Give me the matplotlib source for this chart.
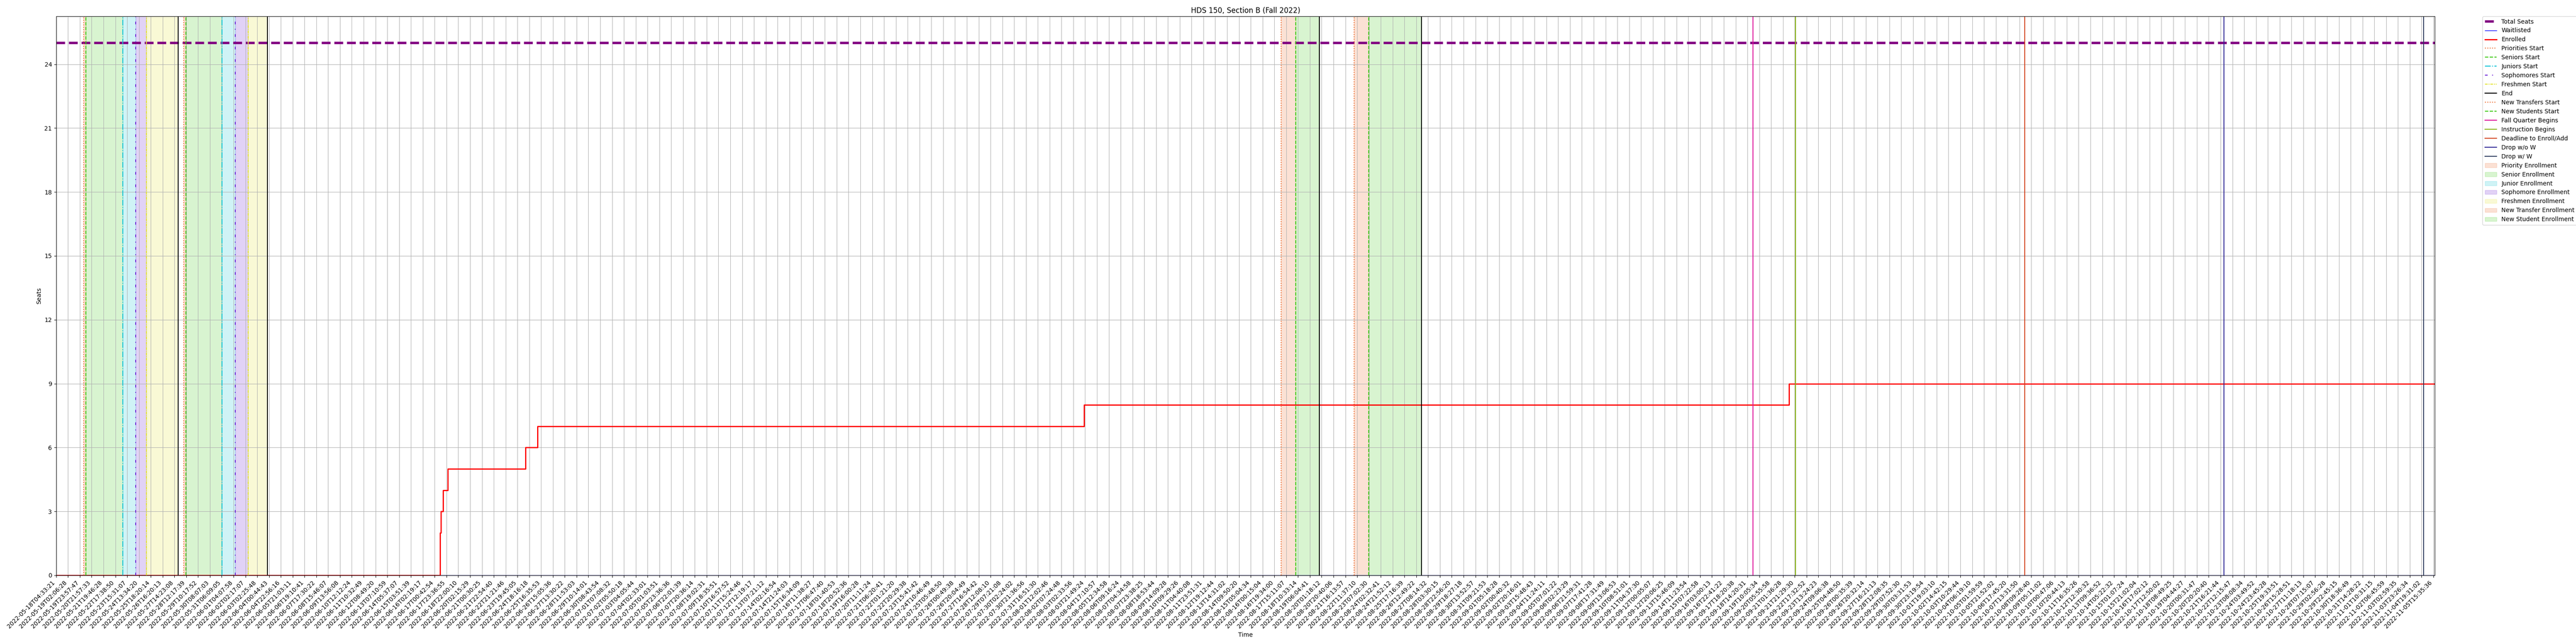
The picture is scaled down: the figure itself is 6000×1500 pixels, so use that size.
import matplotlib
matplotlib.use("Agg")
import matplotlib.pyplot as plt
from matplotlib.patches import Patch
from matplotlib.lines import Line2D

TITLE = "HDS 150, Section B (Fall 2022)"

# x axis is the sample position, one unit = one labelled tick
tick_labels = [
    "2022-05-18T04:33:21", "2022-05-19T02:06:28", "2022-05-19T23:57:47", "2022-05-20T21:57:33",
    "2022-05-21T19:46:28", "2022-05-22T17:38:50", "2022-05-23T15:31:07", "2022-05-24T13:34:20",
    "2022-05-25T18:20:14", "2022-05-26T16:20:13", "2022-05-27T14:23:08", "2022-05-28T12:17:39",
    "2022-05-29T10:17:52", "2022-05-30T08:07:03", "2022-05-31T06:09:05", "2022-06-01T04:07:58",
    "2022-06-02T02:17:07", "2022-06-03T02:25:48", "2022-06-04T00:44:43", "2022-06-04T22:56:16",
    "2022-06-05T21:03:11", "2022-06-06T19:10:41", "2022-06-07T17:30:22", "2022-06-08T15:46:07",
    "2022-06-09T13:56:08", "2022-06-10T12:12:24", "2022-06-11T10:32:49", "2022-06-12T08:49:20",
    "2022-06-13T07:10:59", "2022-06-14T05:37:07", "2022-06-15T03:51:39", "2022-06-16T02:19:17",
    "2022-06-17T00:42:54", "2022-06-17T23:36:55", "2022-06-18T22:00:10", "2022-06-20T02:15:29",
    "2022-06-21T00:30:25", "2022-06-21T22:54:40", "2022-06-22T21:21:46", "2022-06-23T19:45:05",
    "2022-06-24T18:16:18", "2022-06-25T16:35:53", "2022-06-26T15:05:36", "2022-06-27T13:30:22",
    "2022-06-28T11:53:03", "2022-06-29T10:14:01", "2022-06-30T08:43:54", "2022-07-01T07:08:32",
    "2022-07-02T05:50:18", "2022-07-03T04:05:44", "2022-07-04T02:33:01", "2022-07-05T01:03:51",
    "2022-07-05T23:36:36", "2022-07-06T22:01:39", "2022-07-07T20:36:14", "2022-07-08T19:02:31",
    "2022-07-09T18:35:51", "2022-07-10T16:57:52", "2022-07-11T15:24:46", "2022-07-12T12:19:17",
    "2022-07-13T07:21:12", "2022-07-14T02:16:54", "2022-07-14T21:24:03", "2022-07-15T16:34:09",
    "2022-07-16T11:38:27", "2022-07-17T06:47:40", "2022-07-18T01:40:53", "2022-07-18T20:52:36",
    "2022-07-19T16:00:28", "2022-07-20T11:11:24", "2022-07-21T06:20:41", "2022-07-22T01:21:20",
    "2022-07-22T20:29:38", "2022-07-23T15:41:42", "2022-07-24T10:46:49", "2022-07-25T05:48:50",
    "2022-07-26T00:49:38", "2022-07-26T20:04:49", "2022-07-27T16:54:42", "2022-07-28T12:08:10",
    "2022-07-29T07:21:08", "2022-07-30T02:24:02", "2022-07-30T21:36:56", "2022-07-31T16:51:30",
    "2022-08-01T12:02:46", "2022-08-02T07:24:48", "2022-08-03T02:33:56", "2022-08-03T21:49:24",
    "2022-08-04T17:10:57", "2022-08-05T12:34:58", "2022-08-06T09:16:24", "2022-08-07T04:34:58",
    "2022-08-07T23:38:25", "2022-08-08T18:53:44", "2022-08-09T14:09:28", "2022-08-10T09:29:26",
    "2022-08-11T04:40:08", "2022-08-11T23:51:31", "2022-08-12T19:12:44", "2022-08-13T14:31:02",
    "2022-08-14T09:50:20", "2022-08-15T05:04:34", "2022-08-16T00:15:04", "2022-08-16T19:34:00",
    "2022-08-17T15:11:07", "2022-08-18T10:33:14", "2022-08-19T06:04:41", "2022-08-20T01:18:12",
    "2022-08-20T20:40:06", "2022-08-21T16:13:57", "2022-08-22T11:37:10", "2022-08-23T07:02:30",
    "2022-08-24T02:32:41", "2022-08-24T21:52:12", "2022-08-25T17:16:39", "2022-08-26T12:49:22",
    "2022-08-27T08:14:32", "2022-08-28T03:30:15", "2022-08-28T22:56:20", "2022-08-29T18:27:18",
    "2022-08-30T13:52:57", "2022-08-31T09:21:53", "2022-09-01T05:18:28", "2022-09-02T00:40:32",
    "2022-09-02T20:16:01", "2022-09-03T15:48:43", "2022-09-04T11:24:11", "2022-09-05T07:01:22",
    "2022-09-06T02:23:29", "2022-09-06T21:59:31", "2022-09-07T17:41:28", "2022-09-08T17:31:49",
    "2022-09-09T13:06:53", "2022-09-10T08:51:01", "2022-09-11T04:37:30", "2022-09-12T00:05:07",
    "2022-09-12T20:06:25", "2022-09-13T15:46:09", "2022-09-14T11:23:54", "2022-09-15T07:22:58",
    "2022-09-16T03:00:13", "2022-09-16T22:41:22", "2022-09-17T18:20:38", "2022-09-18T14:20:31",
    "2022-09-19T10:05:34", "2022-09-20T05:55:58", "2022-09-21T01:36:28", "2022-09-21T21:29:30",
    "2022-09-22T17:32:52", "2022-09-23T13:24:23", "2022-09-24T09:06:38", "2022-09-25T04:48:50",
    "2022-09-26T00:35:39", "2022-09-26T20:32:14", "2022-09-27T16:21:13", "2022-09-28T12:08:35",
    "2022-09-29T07:52:30", "2022-09-30T03:31:53", "2022-09-30T23:19:54", "2022-10-01T19:03:10",
    "2022-10-02T14:42:15", "2022-10-03T10:29:44", "2022-10-04T06:19:10", "2022-10-05T01:59:59",
    "2022-10-05T21:52:02", "2022-10-06T17:45:20", "2022-10-07T13:31:50", "2022-10-08T09:28:40",
    "2022-10-09T05:11:02", "2022-10-10T00:47:06", "2022-10-10T20:44:13", "2022-10-11T16:35:26",
    "2022-10-12T12:30:32", "2022-10-13T09:36:52", "2022-10-14T05:22:32", "2022-10-15T01:07:24",
    "2022-10-15T21:02:04", "2022-10-16T17:02:12", "2022-10-17T12:50:02", "2022-10-18T08:49:25",
    "2022-10-19T04:44:27", "2022-10-20T00:31:47", "2022-10-20T20:20:40", "2022-10-21T16:21:44",
    "2022-10-22T12:15:47", "2022-10-23T08:08:34", "2022-10-24T03:49:52", "2022-10-24T23:45:28",
    "2022-10-25T19:33:51", "2022-10-26T15:28:51", "2022-10-27T11:18:13", "2022-10-28T07:15:07",
    "2022-10-29T02:56:28", "2022-10-29T22:45:15", "2022-10-30T18:36:49", "2022-10-31T14:28:22",
    "2022-11-01T10:31:15", "2022-11-02T06:45:59", "2022-11-03T02:59:35", "2022-11-03T23:26:34",
    "2022-11-04T19:31:02", "2022-11-05T15:35:36",
]
x_last = 201.12

total_seats = 25

enrolled_x = [0, 32.45, 32.55, 32.7, 33.1, 39.7, 40.7, 86.9, 146.5, x_last]
enrolled_y = [0, 2, 3, 4, 5, 6, 7, 8, 9, 9]

waitlisted_x = [0, x_last]
waitlisted_y = [0, 0]

# enrollment passes (two rounds each)
priorities_start = [2.33, 10.79]
seniors_start = [2.51, 10.96]
juniors_start = [5.63, 14.03]
sophomores_start = [6.72, 15.13]
freshmen_start = [7.63, 16.22]
pass_end = [10.31, 17.85]

new_transfers_start = [103.58, 109.75]
new_students_start = [104.81, 110.98]
new_end = [106.81, 115.45]

fall_quarter_begins = 143.47
instruction_begins = 147.07
deadline_add = 166.46
drop_no_w = 183.3
drop_w = 200.17

ORANGE = "#ec6a2c"
GREEN = "#3cc814"
CYAN = "#12c4d6"
VIOLET = "#6b1fd6"
YELLOW = "#e3e330"


def main():
    fig, ax = plt.subplots(figsize=(60, 15), dpi=100)
    fig.subplots_adjust(left=0.0218, right=0.9452, bottom=0.1067, top=0.9747)

    ax.axhline(total_seats, color="purple", lw=4, ls="--", label="Total Seats")
    ax.plot(waitlisted_x, waitlisted_y, color="blue", lw=1, drawstyle="steps-post",
            label="Waitlisted")
    ax.plot(enrolled_x, enrolled_y, color="red", lw=2, drawstyle="steps-post",
            label="Enrolled")

    vlines = [
        (priorities_start, ORANGE, ":", "Priorities Start"),
        (seniors_start, GREEN, "--", "Seniors Start"),
        (juniors_start, CYAN, "-.", "Juniors Start"),
        (sophomores_start, VIOLET, (0, (3, 5, 1, 5)), "Sophomores Start"),
        (freshmen_start, YELLOW, (0, (3, 1, 1, 1)), "Freshmen Start"),
        (pass_end + new_end, "black", "-", "End"),
        (new_transfers_start, ORANGE, ":", "New Transfers Start"),
        (new_students_start, GREEN, "--", "New Students Start"),
        ([fall_quarter_begins], "#dd1199", "-", "Fall Quarter Begins"),
        ([instruction_begins], "#88b514", "-", "Instruction Begins"),
        ([deadline_add], "#d2431e", "-", "Deadline to Enroll/Add"),
        ([drop_no_w], "#2f2896", "-", "Drop w/o W"),
        ([drop_w], "#2b3a5c", "-", "Drop w/ W"),
    ]
    handles = ax.get_legend_handles_labels()[0]
    for xs, color, ls, label in vlines:
        for x in xs:
            ax.axvline(x, color=color, ls=ls, lw=1.5)
        handles.append(Line2D([], [], color=color, ls=ls, lw=1.5, label=label))

    spans = [
        (priorities_start, seniors_start, ORANGE, "Priority Enrollment"),
        (seniors_start, juniors_start, GREEN, "Senior Enrollment"),
        (juniors_start, sophomores_start, CYAN, "Junior Enrollment"),
        (sophomores_start, freshmen_start, VIOLET, "Sophomore Enrollment"),
        (freshmen_start, pass_end, YELLOW, "Freshmen Enrollment"),
        (new_transfers_start, new_students_start, ORANGE, "New Transfer Enrollment"),
        (new_students_start, new_end, GREEN, "New Student Enrollment"),
    ]
    for starts, ends, color, label in spans:
        for a, b in zip(starts, ends):
            ax.axvspan(a, b, color=color, alpha=0.2)
        handles.append(Patch(color=color, alpha=0.2, label=label))

    ax.set_xticks(range(len(tick_labels)))
    ax.set_xticklabels(tick_labels, rotation=45, ha="right")
    ax.set_yticks(range(0, 25, 3))
    ax.set_xlim(0, x_last)
    ax.set_ylim(0, 26.25)
    ax.grid(True)
    ax.set_title(TITLE)
    ax.set_xlabel("Time")
    ax.set_ylabel("Seats")
    ax.legend(handles=handles, loc="upper left", bbox_to_anchor=(1.02, 1.0),
              borderaxespad=0)

    fig.savefig("out.png", dpi=100)


if __name__ == "__main__":
    main()
